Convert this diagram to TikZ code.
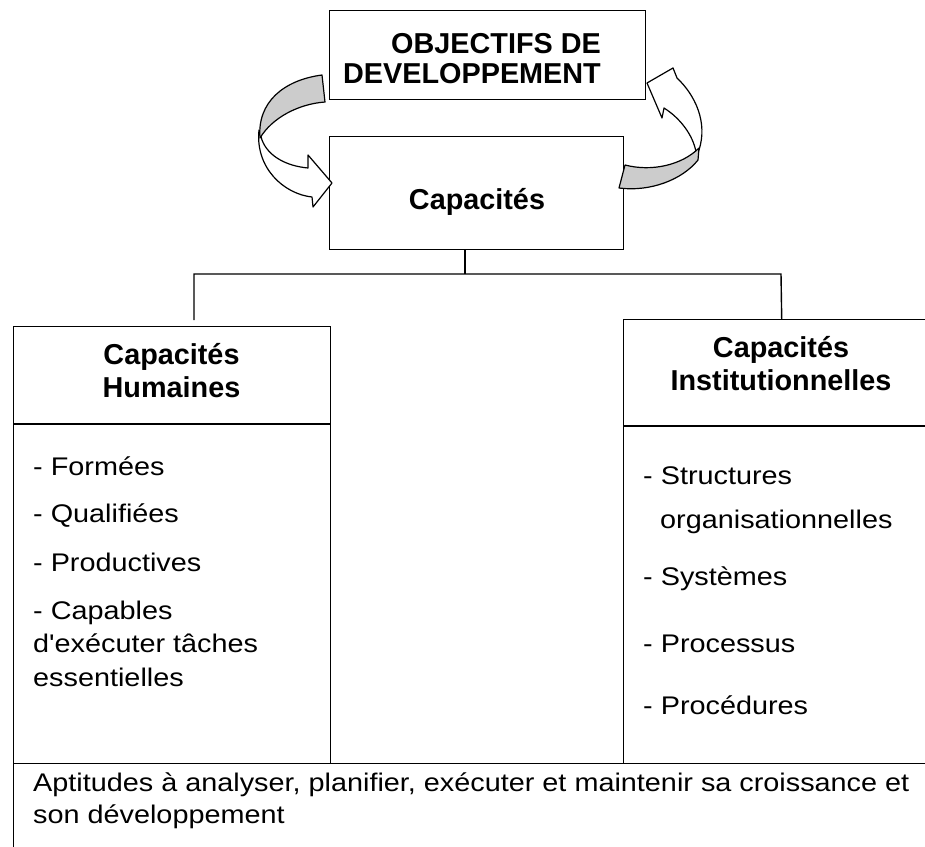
\documentclass[tikz,border=0pt]{standalone}
\usepackage{fontspec}
\setmainfont{Liberation Sans}
\newfontfamily\widefont[FakeStretch=1.13]{Liberation Sans}
\begin{document}
\begin{tikzpicture}[x=1pt,y=-1pt,
  box/.style={draw, line width=1.4pt, inner sep=0pt, anchor=north west},
  btxt/.style={font=\fontsize{28.8}{33}\selectfont\bfseries, inner sep=0pt, anchor=base},
  rtxt/.style={font=\widefont\fontsize{25.5}{34}\selectfont, inner sep=0pt, anchor=base west},
  conn/.style={line width=1.4pt},
  arr/.style={draw, line width=1.2pt, line join=round}]
\useasboundingbox (0,0) rectangle (925,846);
\clip (0,0) rectangle (925,846);
\fill[white] (0,0) rectangle (925,846);

% boxes
\node[box, minimum width=316pt, minimum height=89pt] (obj) at (329,10) {};
\node[box, minimum width=294pt, minimum height=113pt] (cap) at (329,136) {};
\node[box, minimum width=317pt, minimum height=437pt] (hum) at (13,326) {};
\node[box, minimum width=316pt, minimum height=444pt] (inst) at (623,319) {};
\node[box, minimum width=950pt, minimum height=120pt] (apt) at (13,763) {};
\draw[conn] (13,424) -- (330,424);
\draw[conn] (623,426) -- (939,426);

% connectors
\coordinate (bus) at (465,274);
\coordinate (busL) at (194,274);
\coordinate (busR) at (781,274);
\coordinate (endL) at (194,320);
\draw[conn] (cap.south -| bus) -- (bus);
\draw[conn] (endL) -- (busL) -- (busR) -- (inst.north);

% left curved arrow
\filldraw[arr, fill=white] (259,130) .. controls (255,168) and (284,194) .. (312,197) -- (313,207) -- (332,183) -- (308,155) -- (308,168) .. controls (286,166) and (268,156) .. (262,140) -- cycle;
\filldraw[arr, fill=gray!40] (322,75) .. controls (284,80) and (257,102) .. (260,138) .. controls (272,118) and (298,104) .. (325,102) -- cycle;

% right curved arrow
\filldraw[arr, fill=white] (699,150) .. controls (708,122) and (695,95) .. (677,78) -- (673,68) -- (647,83) -- (662,118) -- (664,108) .. controls (680,118) and (693,135) .. (696,152) -- cycle;
\filldraw[arr, fill=gray!40] (625,165) .. controls (652,172) and (682,165) .. (699,148) -- (698,160) .. controls (682,180) and (650,192) .. (619,188) -- cycle;

% titles
\node[btxt] (t1) at (496,53) {OBJECTIFS DE};
\node[btxt] (t2) at (472,83) {DEVELOPPEMENT};
\node[btxt] (t3) at (477,209) {Capacités};
\node[btxt] (t4) at (171.5,364) {Capacités};
\node[btxt] (t5) at (171.5,397) {Humaines};
\node[btxt] (t6) at (781,357) {Capacités};
\node[btxt] (t7) at (781,390) {Institutionnelles};

% left list
\node[rtxt] (l1) at (33,475) {- Formées};
\node[rtxt] (l2) at (33,522) {- Qualifiées};
\node[rtxt] (l3) at (33,571) {- Productives};
\node[rtxt] (l4) at (33,619) {- Capables};
\node[rtxt] (l5) at (33,652) {d'exécuter tâches};
\node[rtxt] (l6) at (33,686) {essentielles};

% right list
\node[rtxt] (r1) at (643,484) {- Structures};
\node[rtxt] (r2) at (660,528) {organisationnelles};
\node[rtxt] (r3) at (643,585) {- Systèmes};
\node[rtxt] (r4) at (643,652) {- Processus};
\node[rtxt] (r5) at (643,714) {- Procédures};

% bottom text
\node[rtxt] (b1) at (33,791) {Aptitudes à analyser, planifier, exécuter et maintenir sa croissance et};
\node[rtxt] (b2) at (33,823) {son développement};
\end{tikzpicture}
\end{document}
